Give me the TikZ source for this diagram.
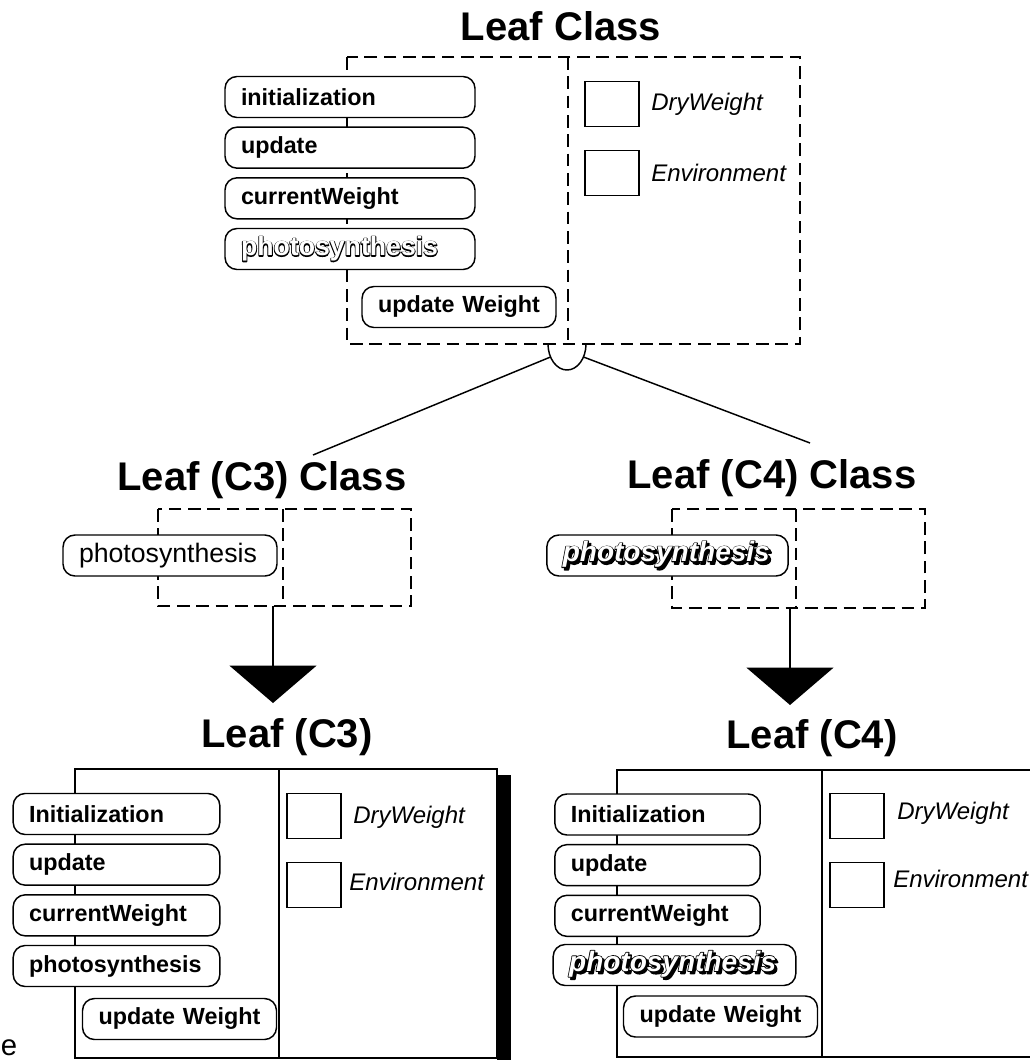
\documentclass[tikz,border=0pt]{standalone}
\usepackage{fontspec}
\setmainfont{Liberation Sans}
\usetikzlibrary{arrows.meta}
\newcommand{\rim}[1]{\special{pdf:literal direct 2 Tr 1.3 w 1 j}#1\special{pdf:literal direct 0 Tr}}
\newcommand{\hollow}[1]{\rlap{\rim{#1}}{\color{white}#1}}
\newcommand{\hollowshadow}[1]{\rlap{\hspace{1.8pt}\raisebox{-1.8pt}{\rim{#1}}}\hollow{#1}}

\begin{document}
\begin{tikzpicture}[x=0.75pt,y=-0.75pt,node distance=38pt,
  ctitle/.style={font=\fontsize{30}{34}\selectfont\bfseries,anchor=base,inner sep=0pt},
  pill/.style={draw,fill=white,line width=1.1pt,rounded corners=9pt,minimum height=30.75pt,inner xsep=12pt,inner ysep=0pt,text width=#1,align=left,font=\fontsize{17.5}{20}\selectfont\bfseries},
  dashbox/.style={line width=2.2pt,dash pattern=on 9.5pt off 5pt},
  solidbox/.style={line width=1.1pt},
  sq/.style={draw,line width=1.1pt,minimum width=40.5pt,minimum height=34pt,inner sep=0pt},
  attr/.style={anchor=west,inner sep=0pt,font=\fontsize{18}{20}\selectfont\itshape},
  isaline/.style={line width=1.1pt},
  inherits/.style={line width=1.8pt,-{Triangle[width=65pt,length=28pt]}}]

  \useasboundingbox (0,0) rectangle (1030,1060);
  \clip (0,0) rectangle (1030,1060);

  % Leaf Class
  \node[ctitle] (lc) at (561,40) {Leaf Class};
  \draw[dashbox] (347,57) rectangle (800,344);
  \draw[dashbox] (568,57) -- (568,344);
  \node[pill=163.5pt] (ti) at (350,97) {initialization};
  \node[pill=163.5pt] (tu) [below of=ti] {update};
  \node[pill=163.5pt] (tc) [below of=tu] {currentWeight};
  \node[pill=163.5pt] (tp) [below of=tc] {\fontsize{20}{20}\selectfont\hollow{photosynthesis}};
  \node[pill=121.5pt,align=center] (tw) at (459,307) {update Weight};
  \node[sq] (tdw) at (612,104) {};
  \node[sq] (tenv) at (612,173) {};
  \node[attr] (tdwl) at (651,104) {DryWeight};
  \node[attr] (tenvl) at (651,173) {Environment};

  \draw[isaline] (548,344) arc[start angle=180,end angle=360,x radius=14.25pt,y radius=19.5pt];
  \coordinate (jl) at (550.5,357);
  \coordinate (jr) at (583.5,357);
  \coordinate (c3in) at (313,455);
  \coordinate (c4in) at (810,443);
  \draw[isaline] (jl) -- (c3in);
  \draw[isaline] (jr) -- (c4in);

  % Leaf (C3) Class
  \node[ctitle] (c3c) at (262,490) {Leaf (C3) Class};
  \draw[dashbox] (158,509) rectangle (411,606);
  \draw[dashbox] (283,509) -- (283,606);
  \node[pill=136.5pt,font=\fontsize{20}{22}\selectfont] (c3p) at (170,555.5) {photosynthesis};
  \coordinate (c3out) at (273,606);
  \coordinate (c3tip) at (273,703);
  \draw[inherits] (c3out) -- (c3tip);

  % Leaf (C4) Class
  \node[ctitle] (c4c) at (772,488) {Leaf (C4) Class};
  \draw[dashbox] (672,509) rectangle (925,608);
  \draw[dashbox] (796,509) -- (796,608);
  \node[pill=157pt] (c4p) at (667.5,555.5) {\fontsize{21}{22}\selectfont\itshape\hollowshadow{photosynthesis}};
  \coordinate (c4out) at (790,608);
  \coordinate (c4tip) at (790,705);
  \draw[inherits] (c4out) -- (c4tip);

  % Leaf (C3)
  \node[ctitle] (c3) at (287,747) {Leaf (C3)};
  \fill (497,775) rectangle (511,1060);
  \draw[solidbox,fill=white] (75,769) rectangle (497,1058);
  \draw[solidbox] (279,769) -- (279,1058);
  \node[pill=131pt] (c3i) at (116.5,814) {Initialization};
  \node[pill=131pt] (c3u) [below of=c3i] {update};
  \node[pill=131pt] (c3cw) [below of=c3u] {currentWeight};
  \node[pill=131pt] (c3ph) [below of=c3cw] {photosynthesis};
  \node[pill=121.5pt,align=center] (c3w) at (179.5,1019) {update Weight};
  \node[sq] (c3dw) at (314,816) {};
  \node[sq] (c3env) at (314,885) {};
  \node[attr] (c3dwl) at (353,817) {DryWeight};
  \node[attr] (c3envl) at (349,882) {Environment};

  % Leaf (C4)
  \node[ctitle] (c4) at (812,748) {Leaf (C4)};
  \draw[solidbox] (617,770) rectangle (1045,1057);
  \draw[solidbox] (822,770) -- (822,1057);
  \node[pill=130pt] (c4i) at (657.5,814.5) {Initialization};
  \node[pill=130pt] (c4u) [below of=c4i] {update};
  \node[pill=130pt] (c4cw) [below of=c4u] {currentWeight};
  \node[pill=158pt] (c4ph) at (674.5,965) {\fontsize{21}{22}\selectfont\itshape\hollowshadow{photosynthesis}};
  \node[pill=121.5pt,align=center] (c4w) at (720.5,1016.5) {update Weight};
  \node[sq] (c4dw) at (857,816) {};
  \node[sq] (c4env) at (857,885) {};
  \node[attr] (c4dwl) at (897,813) {DryWeight};
  \node[attr] (c4envl) at (893,879) {Environment};

  \node[inner sep=0pt,font=\fontsize{22}{24}\selectfont] (stray) at (9,1048) {e};
\end{tikzpicture}
\end{document}
